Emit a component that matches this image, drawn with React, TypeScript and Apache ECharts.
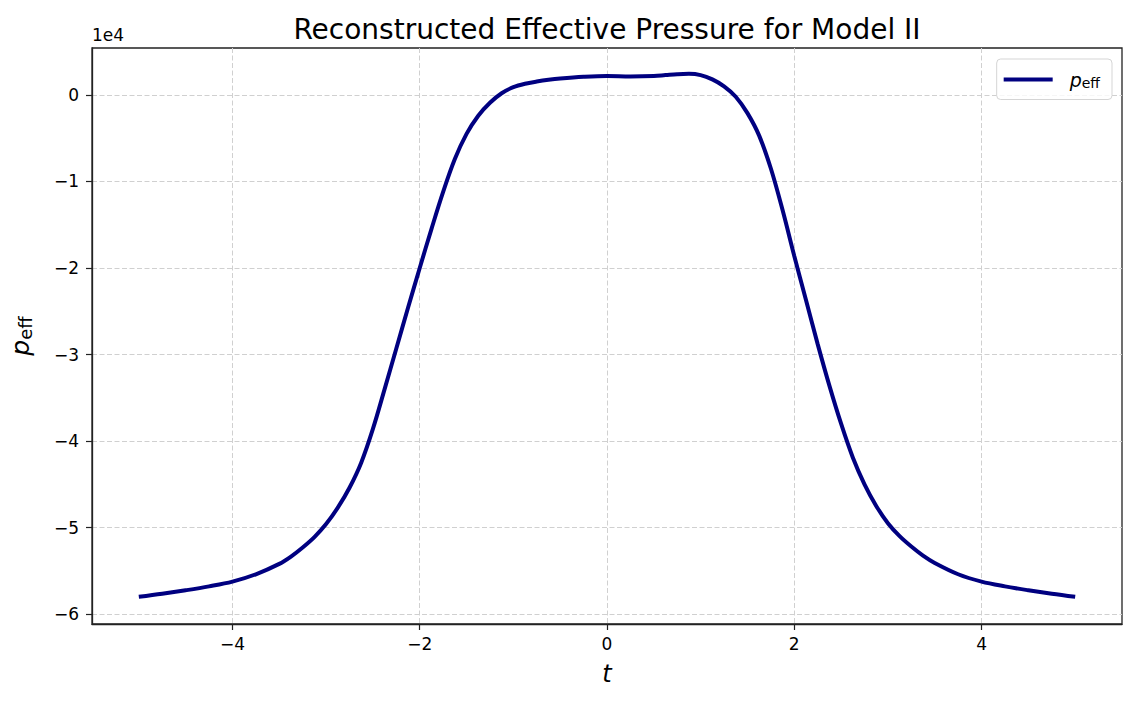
import React, { useEffect, useRef } from "react";
import * as echarts from "echarts";

const tValues = [
  -5, -4.75, -4.5, -4.25, -4, -3.75, -3.5, -3.375, -3.25, -3.125, -3, -2.875, -2.75, -2.625, -2.5, -2.375,
  -2.25, -2.125, -2, -1.875, -1.75, -1.625, -1.5, -1.375, -1.25, -1.125, -1, -0.875, -0.75, -0.625, -0.5,
  -0.25, 0, 0.25, 0.5, 0.625, 0.75, 0.875, 1, 1.125, 1.25, 1.375, 1.5, 1.625, 1.75, 1.875, 2, 2.125, 2.25,
  2.375, 2.5, 2.625, 2.75, 2.875, 3, 3.125, 3.25, 3.375, 3.5, 3.75, 4, 4.25, 4.5, 4.75, 5,
];
const pEff = [
  -58000, -57650, -57250, -56800, -56250, -55400, -54200, -53350, -52300, -51100, -49600, -47700, -45400,
  -42500, -38600, -34000, -29300, -24600, -20000, -15500, -11200, -7400, -4500, -2400, -900, 200, 900, 1300,
  1550, 1750, 1900, 2100, 2200, 2150, 2200, 2300, 2400, 2450, 2300, 1800, 1000, -200, -2100, -4700, -8500,
  -13300, -18600, -23700, -28800, -33600, -38000, -41900, -45000, -47500, -49500, -51000, -52200, -53250,
  -54100, -55400, -56250, -56800, -57250, -57650, -58000,
];
const xTicks = [-4, -2, 0, 2, 4];
const yTicks = [-60000, -50000, -40000, -30000, -20000, -10000, 0];

const FONT = "DejaVu Sans";
const fmtMinus = (s: string) => s.replace("-", "\u2212");

export default function App() {
  const ref = useRef<HTMLDivElement>(null);
  useEffect(() => {
    if (!ref.current) return;
    const chart = echarts.init(ref.current, null, { renderer: "svg" });
    const data = tValues.map((t, i) => [t, pEff[i]]);
    chart.setOption({
      animation: false,
      backgroundColor: "#ffffff",
      textStyle: { fontFamily: FONT },
      title: {
        text: "Reconstructed Effective Pressure for Model II",
        left: 602,
        textAlign: "center",
        top: 10,
        textStyle: { fontFamily: FONT, fontSize: 28, fontWeight: "normal", color: "#000" },
      },
      legend: {
        right: 25,
        top: 59,
        padding: [11, 12, 10, 7],
        itemWidth: 49,
        itemHeight: 4,
        itemGap: 10,
        icon: "rect",
        borderColor: "#d5d5d5",
        borderWidth: 1,
        borderRadius: 4,
        backgroundColor: "rgba(255,255,255,0.8)",
        data: [{ name: "peff", icon: "rect" }],
        formatter: () => "{p|p}{s|eff}",
        textStyle: {
          fontFamily: FONT,
          padding: [0, 0, 0, 12],
          rich: {
            p: { fontFamily: FONT, fontStyle: "italic", fontSize: 19, color: "#000" },
            s: { fontFamily: FONT, fontSize: 14, color: "#000", verticalAlign: "bottom", padding: [6, 0, 0, 0] },
          },
        },
      },
      grid: {
        left: 92,
        right: 15,
        top: 48,
        bottom: 81,
        show: true,
        borderColor: "#222",
        borderWidth: 1.3,
        backgroundColor: "transparent",
      },
      xAxis: {
        type: "value",
        min: -5.5,
        max: 5.5,
        name: "t",
        nameLocation: "middle",
        nameGap: 38,
        nameTextStyle: { fontFamily: FONT, fontStyle: "italic", fontSize: 24, color: "#000" },
        axisLine: { show: true, onZero: false, lineStyle: { color: "#222", width: 1.3 } },
        axisTick: { show: true, length: 6, customValues: xTicks, lineStyle: { color: "#222", width: 1.2 } },
        axisLabel: {
          customValues: xTicks,
          margin: 11,
          fontFamily: FONT,
          fontSize: 17,
          color: "#000",
          formatter: (v: number) => fmtMinus(String(v)),
        },
        splitLine: { show: true, lineStyle: { color: "#d0d0d0", width: 1, type: [5, 2.5] } },
      },
      yAxis: {
        type: "value",
        min: -61150,
        max: 5430,
        name: "{p|p}{s|eff}",
        nameLocation: "middle",
        nameGap: 58,
        nameRotate: 90,
        nameTextStyle: {
          rich: {
            p: { fontFamily: FONT, fontStyle: "italic", fontSize: 25, color: "#000" },
            s: { fontFamily: FONT, fontSize: 18, color: "#000", verticalAlign: "bottom", padding: [9, 0, 0, 0] },
          },
        },
        axisLine: { show: true, onZero: false, lineStyle: { color: "#222", width: 1.3 } },
        axisTick: { show: true, length: 6, customValues: yTicks, lineStyle: { color: "#222", width: 1.2 } },
        axisLabel: {
          customValues: yTicks,
          margin: 13,
          fontFamily: FONT,
          fontSize: 17,
          color: "#000",
          formatter: (v: number) => fmtMinus(String(Math.round(v / 10000))),
        },
        splitLine: { show: true, lineStyle: { color: "#d0d0d0", width: 1, type: [5, 2.5] } },
      },
      graphic: [
        {
          type: "text",
          left: 92,
          top: 26,
          style: { text: "1e4", fontFamily: FONT, fontSize: 17, fill: "#000" },
        },
      ],
      series: [
        {
          name: "peff",
          type: "line",
          data,
          smooth: 0.35,
          showSymbol: false,
          symbol: "none",
          lineStyle: { color: "#000080", width: 4 },
          itemStyle: { color: "#000080" },
          z: 5,
        },
      ],
    });
    return () => chart.dispose();
  }, []);
  return <div ref={ref} style={{ width: 1137, height: 705, margin: -8 }} />;
}
